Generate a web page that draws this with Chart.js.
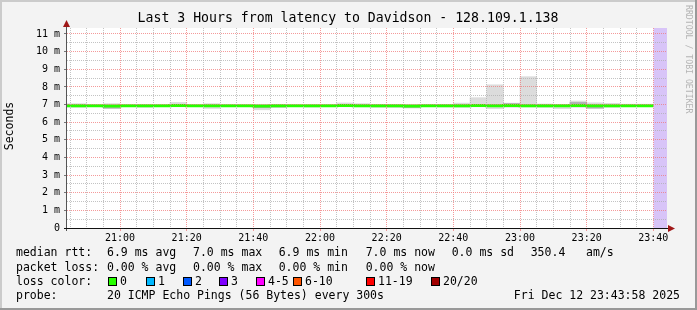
<!DOCTYPE html>
<html>
<head>
<meta charset="utf-8">
<title>latency to Davidson</title>
<script src="https://cdn.jsdelivr.net/npm/chart.js@4/dist/chart.umd.min.js"></script>
<style>
  html, body { margin: 0; padding: 0; background: #f3f3f3; }
  canvas { display: block; }
</style>
</head>
<body>
<canvas id="graph" width="697" height="310"></canvas>
<script>
// 5 minute rrd steps, start time of each step
const slots = [
  "20:40", "20:45", "20:50", "20:55", "21:00", "21:05", "21:10", "21:15", "21:20",
  "21:25", "21:30", "21:35", "21:40", "21:45", "21:50", "21:55", "22:00", "22:05",
  "22:10", "22:15", "22:20", "22:25", "22:30", "22:35", "22:40", "22:45", "22:50",
  "22:55", "23:00", "23:05", "23:10", "23:15", "23:20", "23:25", "23:30", "23:35"
];
// median rtt (ms)
const median = [
  6.93, 6.93, 6.93, 6.92, 6.93, 6.93, 6.93, 6.94, 6.93,
  6.93, 6.93, 6.93, 6.92, 6.93, 6.93, 6.93, 6.93, 6.94,
  6.93, 6.93, 6.93, 6.92, 6.93, 6.93, 6.93, 6.94, 6.93,
  6.94, 6.93, 6.93, 6.93, 6.94, 6.93, 6.93, 6.93, 6.93
];
// smoke: outer range of the pings (ms)
const smokeLo = [
  6.86, 6.84, 6.88, 6.78, 6.88, 6.84, 6.89, 6.87, 6.89,
  6.78, 6.89, 6.88, 6.70, 6.84, 6.89, 6.85, 6.89, 6.87,
  6.87, 6.85, 6.82, 6.80, 6.89, 6.86, 6.84, 6.87, 6.77,
  6.84, 6.86, 6.84, 6.77, 6.84, 6.77, 6.84, 6.88, 6.88
];
const smokeHi = [
  7.05, 7.05, 6.98, 7.05, 6.97, 6.98, 6.97, 7.12, 6.97,
  7.05, 6.97, 6.97, 7.00, 7.00, 6.97, 6.97, 6.97, 7.09,
  7.05, 7.00, 7.00, 7.00, 7.00, 7.00, 7.08, 7.39, 8.12,
  7.08, 8.58, 7.03, 7.00, 7.20, 7.10, 7.07, 7.02, 7.02
];
// smoke: inner range (darker)
const coreLo = [
  6.90, 6.90, 6.91, 6.79, 6.91, 6.90, 6.91, 6.91, 6.91,
  6.88, 6.91, 6.90, 6.82, 6.86, 6.91, 6.90, 6.91, 6.91,
  6.91, 6.87, 6.90, 6.83, 6.91, 6.90, 6.90, 6.91, 6.90,
  6.90, 6.91, 6.90, 6.88, 6.90, 6.80, 6.90, 6.91, 6.91
];
const coreHi = [
  6.97, 6.97, 6.95, 6.95, 6.95, 6.96, 6.95, 6.98, 6.95,
  6.96, 6.95, 6.95, 6.95, 6.96, 6.95, 6.95, 6.95, 6.98,
  6.97, 6.96, 6.96, 6.95, 6.95, 6.96, 6.97, 6.98, 6.98,
  7.06, 6.98, 6.97, 6.96, 7.12, 6.97, 6.96, 6.95, 6.95
];
const noDataFrom = "23:40";
const viewStart = "20:44:06";
const viewEnd = "23:44:06";
const stepMin = 5;
const yMax = 11.34;

const lossLabels = ["0", "1", "2", "3", "4-5", "6-10", "11-19", "20/20"];
const lossColors = ["#26ff00", "#00b8ff", "#0059ff", "#7e00ff", "#ff00ff", "#ff5500", "#ff0000", "#a10000"];
const rttStats = ["6.9 ms avg", "7.0 ms max", "6.9 ms min", "7.0 ms now", "0.0 ms sd", "350.4", "am/s"];
const lossStats = ["0.00 % avg", "0.00 % max", "0.00 % min", "0.00 % now"];

const toMin = s => {
  const [h, m, sec = 0] = s.split(":").map(Number);
  return h * 60 + m + sec / 60;
};
const fmt = v => {
  const h = Math.floor(v / 60), m = Math.round(v % 60);
  return String(h).padStart(2, "0") + ":" + String(m).padStart(2, "0");
};

const xMin = toMin(viewStart);
const xMax = toMin(viewEnd);
const last = slots.length - 1;

const MONO = '"DejaVu Sans Mono", monospace';
const majorGrid = "rgba(240,120,120,0.75)";
const minorGrid = "rgba(175,175,175,0.75)";

// hintergrund, rahmen, texte und pfeile
const frame = {
  id: "frame",
  beforeDraw(chart) {
    const { ctx, chartArea: a } = chart;
    ctx.save();
    ctx.fillStyle = "#f3f3f3";
    ctx.fillRect(0, 0, 697, 310);
    ctx.fillStyle = "#cbcbcb";
    ctx.fillRect(0, 0, 697, 2);
    ctx.fillRect(0, 0, 2, 310);
    ctx.fillStyle = "#999999";
    ctx.fillRect(0, 308, 697, 2);
    ctx.fillRect(695, 0, 2, 310);
    ctx.fillStyle = "#ffffff";
    ctx.fillRect(a.left, a.top, a.right - a.left, a.bottom - a.top);
    ctx.restore();
  },
  afterDraw(chart) {
    const { ctx, chartArea: a } = chart;
    ctx.save();
    // axes
    ctx.strokeStyle = "#555";
    ctx.lineWidth = 1;
    ctx.beginPath();
    ctx.moveTo(a.left - 0.5, a.bottom + 3);
    ctx.lineTo(a.left - 0.5, a.top - 2);
    ctx.stroke();
    ctx.strokeStyle = "#111";
    ctx.beginPath();
    ctx.moveTo(a.left - 3, a.bottom + 0.5);
    ctx.lineTo(a.right + 3, a.bottom + 0.5);
    ctx.stroke();
    ctx.fillStyle = "#a01818";
    ctx.beginPath();
    ctx.moveTo(a.left - 4, a.top - 1);
    ctx.lineTo(a.left + 3, a.top - 1);
    ctx.lineTo(a.left - 0.5, a.top - 8);
    ctx.closePath();
    ctx.fill();
    ctx.beginPath();
    ctx.moveTo(a.right + 1, a.bottom - 3);
    ctx.lineTo(a.right + 1, a.bottom + 4);
    ctx.lineTo(a.right + 8, a.bottom + 0.5);
    ctx.closePath();
    ctx.fill();

    // title + axis label
    ctx.fillStyle = "#000";
    ctx.textBaseline = "middle";
    ctx.textAlign = "center";
    ctx.font = "13.2px " + MONO;
    ctx.fillText("Last 3 Hours from latency to Davidson - 128.109.1.138", 348, 19);
    ctx.save();
    ctx.translate(10.5, 126);
    ctx.rotate(-Math.PI / 2);
    ctx.font = "11.5px " + MONO;
    ctx.fillText("Seconds", 0, 0);
    ctx.restore();

    ctx.save();
    ctx.translate(688.5, 5);
    ctx.rotate(Math.PI / 2);
    ctx.textAlign = "left";
    ctx.fillStyle = "#b4b4b4";
    ctx.font = "8.2px " + MONO;
    ctx.fillText("RRDTOOL / TOBI OETIKER", 0, 0);
    ctx.restore();

    // legend
    ctx.textAlign = "left";
    ctx.font = "11.5px " + MONO;
    const rows = [253.5, 268, 282, 296.5];
    const statX = [107, 193, 278.7, 365.7, 451.7, 530.7, 586];
    ctx.fillText("median rtt:", 16, rows[0]);
    rttStats.forEach((t, i) => ctx.fillText(t, statX[i], rows[0]));
    ctx.fillText("packet loss:", 16, rows[1]);
    lossStats.forEach((t, i) => ctx.fillText(t, statX[i], rows[1]));
    ctx.fillText("loss color:", 16, rows[2]);
    const boxX = [108, 145.7, 182.7, 219.3, 256, 292.7, 365.7, 430.7];
    lossLabels.forEach((t, i) => {
      const x = Math.round(boxX[i]);
      ctx.fillStyle = lossColors[i];
      ctx.fillRect(x, 277, 9, 9);
      ctx.strokeStyle = "#000";
      ctx.strokeRect(x + 0.5, 277.5, 8, 8);
      ctx.fillStyle = "#000";
      ctx.fillText(t, x + 12, rows[2]);
    });
    ctx.fillText("probe:", 16, rows[3]);
    ctx.fillText("20 ICMP Echo Pings (56 Bytes) every 300s", 107, rows[3]);
    ctx.textAlign = "right";
    ctx.fillText("Fri Dec 12 23:43:58 2025", 680, rows[3]);
    ctx.restore();
  }
};

const mid = s => toMin(s) + stepMin / 2;

new Chart(document.getElementById("graph"), {
  type: "line",
  data: {
    datasets: [
      {
        type: "line",
        label: "median",
        data: slots.map((s, i) => ({ x: toMin(s), y: median[i] }))
          .concat([{ x: toMin(noDataFrom), y: median[last] }]),
        stepped: "before",
        borderColor: "#26ff00",
        borderWidth: 3,
        pointRadius: 0,
        fill: false,
        order: 0
      },
      {
        type: "bar",
        label: "core",
        data: slots.map((s, i) => ({ x: mid(s), y: [coreLo[i], coreHi[i]] })),
        backgroundColor: "#b0b0b0",
        borderWidth: 0,
        barPercentage: 1,
        categoryPercentage: 1,
        grouped: false,
        order: 1
      },
      {
        type: "bar",
        label: "smoke",
        data: slots.map((s, i) => ({ x: mid(s), y: [smokeLo[i], smokeHi[i]] })),
        backgroundColor: "#dcdcdc",
        borderWidth: 0,
        barPercentage: 1,
        categoryPercentage: 1,
        grouped: false,
        order: 2
      },
      {
        type: "line",
        label: "unknown",
        data: [{ x: toMin(noDataFrom), y: yMax }, { x: xMax, y: yMax }],
        borderWidth: 0,
        pointRadius: 0,
        backgroundColor: "#d8c4f8",
        fill: "origin",
        order: 3
      }
    ]
  },
  options: {
    responsive: false,
    animation: false,
    devicePixelRatio: 1,
    layout: { padding: { top: 28, right: 30, left: 0, bottom: 0 } },
    plugins: { legend: { display: false }, tooltip: { enabled: false } },
    scales: {
      x: {
        type: "linear",
        min: xMin,
        max: xMax,
        offset: false,
        afterFit: s => { s.height = 82; },
        afterBuildTicks: s => {
          const t = [];
          for (let v = Math.ceil(xMin / stepMin) * stepMin; v <= xMax; v += stepMin) t.push({ value: v });
          s.ticks = t;
        },
        ticks: {
          autoSkip: false,
          maxRotation: 0,
          minRotation: 0,
          padding: 1,
          color: "#000",
          font: { family: MONO, size: 10 },
          callback: v => (v % 20 === 0 ? fmt(v) : "")
        },
        grid: {
          offset: false,
          z: 1,
          tickLength: 3,
          color: c => (c.tick && c.tick.value % 20 === 0 ? majorGrid : minorGrid),
          tickColor: c => (c.tick && c.tick.value % 20 === 0 ? majorGrid : "rgba(0,0,0,0)")
        },
        border: { display: false, dash: [1, 1] }
      },
      y: {
        type: "linear",
        min: 0,
        max: yMax,
        afterFit: s => { s.width = 67; },
        afterBuildTicks: s => {
          const t = [];
          for (let v = 0; v <= 11; v += 0.5) t.push({ value: v });
          s.ticks = t;
        },
        ticks: {
          autoSkip: false,
          padding: 4,
          color: "#000",
          font: { family: MONO, size: 10 },
          callback: v => (v % 1 ? "" : v === 0 ? "0" : v + " m")
        },
        grid: {
          z: 1,
          tickLength: 3,
          color: c => (c.tick && c.tick.value % 1 === 0 ? majorGrid : minorGrid),
          tickColor: c => (c.tick && c.tick.value % 1 === 0 ? "#777" : "rgba(0,0,0,0)")
        },
        border: { display: false, dash: [1, 1] }
      }
    }
  },
  plugins: [frame]
});
</script>
</body>
</html>
